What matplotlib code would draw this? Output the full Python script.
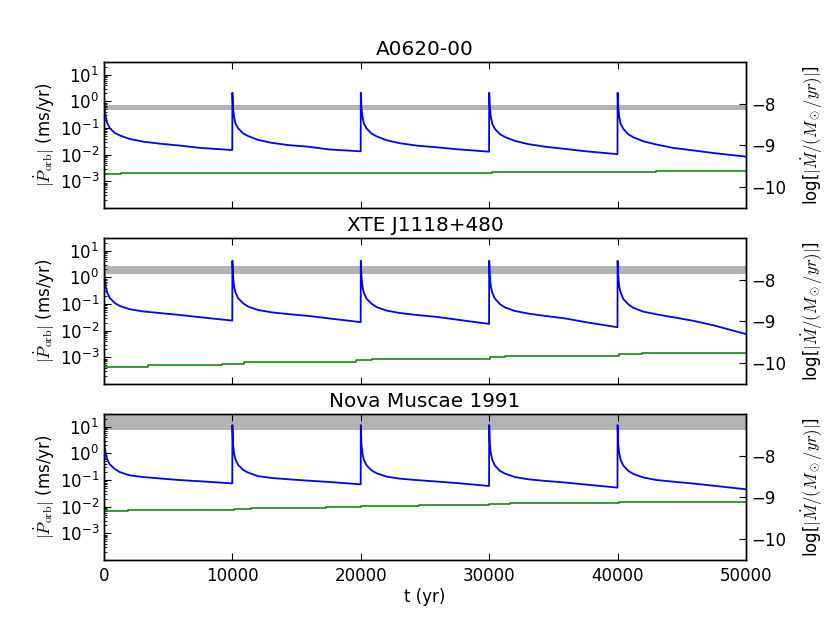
import matplotlib
matplotlib.use('Agg')
import matplotlib.pyplot as plt
from matplotlib.ticker import LogLocator, NullFormatter

plt.rcParams['mathtext.fontset'] = 'cm'
plt.rcParams['font.family'] = 'DejaVu Sans'
plt.rcParams['xtick.direction'] = 'in'
plt.rcParams['ytick.direction'] = 'in'
plt.rcParams['xtick.major.size'] = 5
plt.rcParams['ytick.major.size'] = 5
plt.rcParams['ytick.minor.size'] = 2.5
plt.rcParams['axes.linewidth'] = 1.0

names = ['A0620-00', 'XTE J1118+480', 'Nova Muscae 1991']

# outbursts every 10000 yr, offsets inside each cycle
cycle_start = [0, 10000, 20000, 30000, 40000]
cycle_dt = [0, 55, 130, 235, 445, 835, 1225, 2000, 3040, 4340, 5900, 7500, 9990]

# |Pdot_orb| in ms/yr, one row per cycle
pdot_a0620 = [
    [1.6, 0.55, 0.28, 0.16, 0.10, 0.066, 0.053, 0.039, 0.031, 0.026, 0.022, 0.018, 0.015],
    [2.1, 0.55, 0.27, 0.15, 0.098, 0.063, 0.050, 0.036, 0.028, 0.023, 0.020, 0.0158, 0.0134],
    [2.1, 0.55, 0.27, 0.15, 0.097, 0.062, 0.049, 0.035, 0.027, 0.022, 0.019, 0.016, 0.013],
    [2.1, 0.54, 0.26, 0.145, 0.093, 0.059, 0.046, 0.033, 0.025, 0.020, 0.0165, 0.0135, 0.0105],
    [2.1, 0.54, 0.26, 0.145, 0.093, 0.058, 0.045, 0.032, 0.024, 0.018, 0.0145, 0.0115, 0.0085],
]
pdot_xte = [
    [2.3, 0.9, 0.45, 0.28, 0.17, 0.11, 0.085, 0.064, 0.053, 0.046, 0.039, 0.032, 0.024],
    [4.2, 1.06, 0.45, 0.28, 0.165, 0.107, 0.080, 0.060, 0.049, 0.042, 0.036, 0.029, 0.021],
    [4.2, 1.05, 0.44, 0.27, 0.16, 0.103, 0.077, 0.057, 0.046, 0.039, 0.033, 0.026, 0.018],
    [4.2, 1.05, 0.44, 0.27, 0.16, 0.10, 0.075, 0.055, 0.044, 0.036, 0.029, 0.021, 0.0135],
    [4.2, 1.05, 0.44, 0.27, 0.155, 0.098, 0.072, 0.052, 0.041, 0.032, 0.0235, 0.0158, 0.0075],
]
pdot_novamus = [
    [5.5, 2.0, 1.0, 0.62, 0.39, 0.26, 0.20, 0.15, 0.13, 0.115, 0.10, 0.09, 0.075],
    [11.6, 2.1, 1.0, 0.60, 0.37, 0.24, 0.19, 0.14, 0.12, 0.107, 0.095, 0.085, 0.069],
    [11.6, 2.1, 1.0, 0.58, 0.36, 0.23, 0.18, 0.135, 0.113, 0.10, 0.088, 0.077, 0.060],
    [11.6, 2.1, 1.0, 0.58, 0.35, 0.22, 0.175, 0.13, 0.107, 0.093, 0.081, 0.068, 0.052],
    [11.6, 2.1, 1.0, 0.57, 0.35, 0.22, 0.17, 0.125, 0.10, 0.087, 0.074, 0.061, 0.045],
]

# secular |Pdot| without outbursts (step curves)
green_t_a0620 = [0, 1300, 16100, 30200, 43000]
green_v_a0620 = [1.85e-3, 2.0e-3, 2.15e-3, 2.3e-3, 2.45e-3]
green_t_xte = [0, 3400, 9200, 10900, 19650, 20900, 30100, 31200, 40100, 41900]
green_v_xte = [4.3e-4, 5.0e-4, 5.8e-4, 6.7e-4, 7.8e-4, 9.0e-4, 1.02e-3, 1.15e-3, 1.3e-3, 1.5e-3]
green_t_novamus = [0, 1900, 7200, 10100, 11450, 17300, 20000, 24500, 30000, 31600, 40100]
green_v_novamus = [7.0e-3, 7.4e-3, 7.8e-3, 8.2e-3, 9.0e-3, 9.8e-3, 1.08e-2, 1.15e-2,
                   1.25e-2, 1.35e-2, 1.5e-2]

# observed |Pdot| range (gray band)
band_lo = [0.48, 1.3, 7.6]
band_hi = [0.72, 2.6, 40.0]

blue_sets = [pdot_a0620, pdot_xte, pdot_novamus]
green_t = [green_t_a0620, green_t_xte, green_t_novamus]
green_v = [green_v_a0620, green_v_xte, green_v_novamus]

fig = plt.figure(figsize=(8.3, 6.23), dpi=100)
bottoms = [0.6661, 0.3836, 0.1011]

for i in range(3):
    ax = fig.add_axes([0.1253, bottoms[i], 0.7735, 0.2343])
    t = []
    v = []
    for c, start in enumerate(cycle_start):
        for dt, val in zip(cycle_dt, blue_sets[i][c]):
            t.append(start + dt)
            v.append(val)
    ax.axhspan(band_lo[i], band_hi[i], color='0.7', lw=0, zorder=1)
    ax.plot(t, v, color='b', lw=1.3, zorder=3)
    ax.step(green_t[i] + [50000], green_v[i] + [green_v[i][-1]], where='post',
            color='g', lw=1.1, zorder=3)
    ax.set_yscale('log')
    ax.set_ylim(1e-4, 30)
    ax.set_xlim(0, 50000)
    ax.set_yticks([1e-3, 1e-2, 1e-1, 1, 10])
    ax.yaxis.set_minor_locator(LogLocator(base=10, subs=range(2, 10), numticks=20))
    ax.yaxis.set_minor_formatter(NullFormatter())
    ax.set_xticks([0, 10000, 20000, 30000, 40000, 50000])
    ax.tick_params(axis='x', top=True, labelsize=12, pad=5)
    ax.tick_params(axis='y', labelsize=12)
    if i < 2:
        ax.set_xticklabels([])
    else:
        ax.set_xlabel('t (yr)', fontsize=12, labelpad=2)
    ax.set_ylabel(r'$|\dot{P}_{\rm orb}|$ (ms/yr)', fontsize=12, labelpad=2)
    ax.set_title(names[i], fontsize=14.4, pad=5)

    ax2 = ax.twinx()
    ax2.set_ylim(-10.5, -7.0)
    ax2.set_yticks([-10, -9, -8])
    ax2.tick_params(axis='y', direction='in', labelsize=12)
    ax2.set_ylabel(r'log[$|\dot{M}/(M_\odot/yr)|$]', fontsize=12, labelpad=10)

fig.savefig('out.png', dpi=100)
